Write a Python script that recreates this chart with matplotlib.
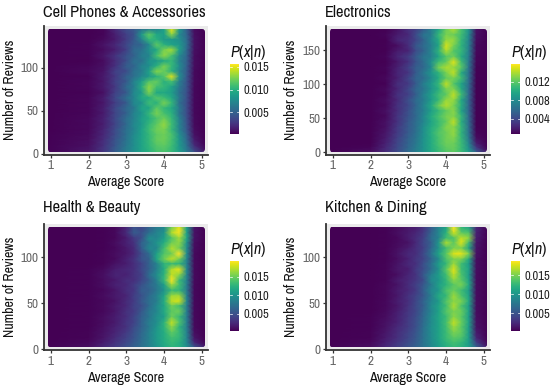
import matplotlib
matplotlib.use("Agg")
import matplotlib.pyplot as plt
import numpy as np
from matplotlib.patches import FancyBboxPatch
from matplotlib import font_manager

names = {f.name for f in font_manager.fontManager.ttflist}
# condensed face when there is one, else plain Liberation a bit smaller
if "Archivo Narrow" in names:
    FONT, SCALE = "Archivo Narrow", 1.0
else:
    FONT, SCALE = "Liberation Sans", 0.82
plt.rcParams["font.family"] = [FONT, "DejaVu Sans"]
plt.rcParams["mathtext.fontset"] = "custom"
plt.rcParams["mathtext.it"] = FONT + ":italic"
plt.rcParams["mathtext.rm"] = FONT

W, H = 553, 389

# Average score positions of the grid columns
scores = [0.92, 2.0, 2.4, 2.7, 3.0, 3.2, 3.4, 3.6, 3.8, 4.0, 4.2, 4.4, 4.6, 4.8, 5.08]

# Number of reviews of the grid rows, top to bottom
n_cell = [145, 139, 133, 127, 121, 114, 108, 102, 96, 90, 84, 78, 71, 65, 59, 53, 47, 41, 34, 28, 22, 16, 9, 2]
n_elec = [181, 173, 165, 157, 149, 141, 133, 125, 117, 109, 101, 93, 85, 77, 69, 61, 53, 45, 37, 29, 21, 13, 7, 1]
n_health = [133, 127, 121, 116, 110, 104, 98, 93, 87, 81, 75, 70, 64, 58, 52, 47, 41, 35, 29, 24, 18, 12, 7, 2]
n_kitchen = [133, 127, 121, 116, 110, 104, 98, 93, 87, 81, 75, 70, 64, 58, 52, 47, 41, 35, 29, 24, 18, 12, 7, 2]

# P(x|n), in units of 1e-4
p_cell = [
    [3, 3, 5, 20, 38, 45, 60, 70, 72, 90, 150, 85, 48, 8, 3],
    [3, 3, 5, 16, 32, 42, 85, 118, 95, 90, 130, 75, 52, 9, 3],
    [3, 3, 7, 14, 30, 45, 70, 105, 100, 85, 85, 80, 56, 10, 3],
    [3, 4, 11, 20, 36, 48, 52, 75, 118, 100, 90, 85, 58, 10, 3],
    [3, 4, 8, 16, 32, 55, 60, 80, 95, 125, 135, 90, 54, 9, 3],
    [3, 4, 12, 26, 42, 50, 68, 72, 110, 130, 110, 75, 52, 8, 3],
    [3, 3, 8, 22, 40, 60, 58, 82, 85, 95, 105, 70, 50, 8, 3],
    [3, 5, 10, 24, 48, 52, 72, 78, 100, 125, 105, 78, 48, 8, 3],
    [3, 6, 11, 32, 38, 60, 66, 90, 128, 120, 100, 70, 46, 7, 3],
    [3, 4, 14, 28, 50, 58, 74, 85, 100, 115, 150, 80, 44, 7, 3],
    [3, 5, 12, 32, 45, 72, 88, 115, 120, 100, 110, 68, 42, 7, 3],
    [3, 5, 14, 28, 55, 68, 98, 130, 110, 105, 92, 65, 42, 6, 3],
    [3, 4, 10, 32, 45, 75, 85, 125, 95, 95, 88, 60, 40, 6, 3],
    [3, 5, 15, 36, 58, 72, 95, 98, 115, 108, 95, 64, 40, 6, 3],
    [3, 5, 13, 30, 46, 75, 80, 108, 100, 125, 105, 58, 38, 6, 3],
    [3, 5, 16, 36, 55, 64, 92, 92, 118, 105, 95, 66, 38, 6, 3],
    [3, 5, 14, 34, 50, 72, 82, 105, 125, 110, 100, 62, 38, 6, 3],
    [3, 6, 17, 36, 58, 70, 88, 98, 112, 122, 105, 70, 40, 7, 3],
    [3, 6, 16, 34, 55, 75, 85, 105, 118, 132, 108, 72, 42, 7, 3],
    [3, 6, 19, 38, 60, 72, 90, 108, 122, 125, 105, 72, 44, 8, 3],
    [4, 7, 20, 38, 60, 76, 90, 105, 118, 122, 112, 80, 50, 10, 3],
    [4, 8, 23, 42, 62, 78, 92, 105, 120, 122, 110, 84, 54, 14, 3],
    [4, 9, 25, 44, 65, 78, 92, 104, 115, 118, 108, 85, 60, 22, 5],
    [4, 12, 28, 48, 68, 80, 92, 100, 110, 112, 105, 88, 66, 40, 12],
]
p_elec = [
    [3, 3, 7, 14, 28, 35, 50, 72, 95, 125, 140, 115, 85, 14, 3],
    [3, 3, 9, 18, 24, 42, 66, 70, 108, 128, 125, 112, 80, 13, 3],
    [3, 3, 6, 22, 28, 38, 55, 78, 100, 135, 135, 108, 76, 12, 3],
    [3, 4, 8, 12, 26, 48, 60, 72, 95, 150, 128, 105, 74, 10, 3],
    [3, 3, 7, 18, 22, 42, 55, 76, 105, 140, 118, 108, 72, 10, 3],
    [3, 4, 9, 22, 34, 50, 66, 72, 96, 118, 125, 100, 70, 9, 3],
    [3, 4, 7, 16, 28, 46, 60, 82, 112, 122, 152, 112, 68, 9, 3],
    [3, 3, 9, 20, 36, 52, 58, 78, 128, 140, 135, 120, 66, 8, 3],
    [3, 4, 8, 22, 30, 50, 68, 86, 105, 128, 145, 100, 64, 8, 3],
    [3, 4, 10, 20, 38, 56, 60, 80, 100, 122, 128, 112, 62, 8, 3],
    [3, 4, 8, 26, 32, 50, 72, 88, 108, 145, 118, 96, 60, 7, 3],
    [3, 4, 11, 22, 40, 58, 66, 85, 102, 128, 130, 100, 58, 7, 3],
    [3, 4, 9, 28, 36, 52, 74, 92, 112, 120, 145, 112, 58, 7, 3],
    [3, 4, 12, 24, 44, 60, 70, 90, 108, 135, 135, 98, 56, 7, 3],
    [3, 4, 10, 28, 40, 56, 76, 98, 125, 142, 128, 102, 56, 7, 3],
    [3, 4, 13, 26, 44, 60, 72, 92, 108, 122, 132, 95, 56, 7, 3],
    [3, 4, 11, 30, 46, 58, 78, 100, 115, 128, 130, 108, 58, 7, 3],
    [3, 4, 14, 28, 48, 62, 76, 96, 110, 122, 145, 102, 60, 7, 3],
    [3, 5, 14, 32, 50, 62, 82, 100, 112, 130, 132, 108, 62, 8, 3],
    [3, 5, 16, 32, 50, 64, 82, 102, 118, 125, 135, 105, 64, 9, 3],
    [3, 6, 18, 36, 54, 66, 84, 100, 115, 126, 130, 108, 68, 12, 3],
    [3, 7, 21, 38, 56, 68, 85, 100, 115, 125, 125, 110, 76, 20, 4],
    [3, 9, 24, 40, 58, 70, 85, 100, 112, 122, 124, 110, 82, 32, 6],
    [4, 12, 26, 42, 60, 72, 85, 98, 110, 118, 122, 110, 90, 50, 16],
]
p_health = [
    [3, 3, 4, 6, 22, 50, 42, 62, 80, 90, 150, 185, 110, 12, 3],
    [3, 3, 4, 7, 26, 58, 50, 70, 88, 100, 170, 190, 110, 12, 3],
    [3, 3, 4, 6, 18, 35, 48, 95, 90, 110, 140, 165, 115, 12, 3],
    [3, 3, 4, 9, 20, 30, 62, 80, 100, 120, 150, 160, 100, 10, 3],
    [3, 3, 4, 7, 16, 26, 58, 92, 90, 135, 170, 150, 95, 9, 3],
    [3, 3, 5, 9, 15, 24, 46, 68, 110, 140, 150, 192, 95, 8, 3],
    [3, 3, 5, 8, 20, 30, 52, 60, 115, 150, 175, 150, 90, 8, 3],
    [3, 3, 5, 12, 18, 28, 40, 62, 85, 125, 130, 125, 85, 8, 3],
    [3, 4, 8, 18, 24, 28, 44, 60, 85, 120, 170, 185, 92, 8, 3],
    [3, 4, 11, 22, 20, 30, 38, 70, 95, 125, 175, 160, 88, 8, 3],
    [3, 4, 9, 16, 28, 28, 42, 58, 85, 130, 190, 130, 85, 8, 3],
    [3, 4, 10, 20, 24, 36, 50, 66, 80, 110, 165, 135, 82, 7, 3],
    [3, 4, 7, 14, 28, 32, 58, 60, 78, 100, 130, 125, 80, 7, 3],
    [3, 4, 9, 16, 22, 38, 50, 68, 85, 115, 165, 165, 85, 7, 3],
    [3, 4, 7, 12, 26, 36, 55, 72, 82, 120, 175, 180, 90, 7, 3],
    [3, 4, 8, 16, 24, 40, 48, 68, 92, 115, 150, 135, 82, 7, 3],
    [3, 4, 7, 14, 30, 36, 55, 78, 90, 118, 145, 150, 84, 7, 3],
    [3, 4, 10, 18, 28, 42, 60, 76, 98, 108, 150, 130, 82, 7, 3],
    [3, 4, 9, 16, 32, 40, 62, 84, 95, 125, 175, 140, 84, 8, 3],
    [3, 4, 11, 20, 30, 46, 62, 80, 102, 125, 160, 125, 82, 8, 3],
    [3, 5, 12, 22, 36, 50, 66, 85, 105, 120, 145, 130, 86, 10, 3],
    [3, 5, 14, 26, 40, 52, 68, 85, 105, 120, 135, 128, 88, 14, 3],
    [3, 7, 18, 30, 44, 56, 70, 85, 104, 118, 130, 122, 90, 24, 5],
    [4, 10, 24, 36, 50, 60, 72, 85, 100, 115, 125, 120, 95, 55, 18],
]
p_kitchen = [
    [3, 3, 4, 8, 14, 18, 30, 55, 85, 110, 187, 125, 110, 22, 4],
    [3, 3, 4, 10, 16, 22, 34, 60, 88, 120, 175, 140, 135, 20, 4],
    [3, 3, 4, 7, 18, 26, 38, 68, 85, 130, 135, 170, 155, 18, 4],
    [3, 3, 4, 8, 12, 24, 42, 58, 100, 165, 140, 178, 130, 15, 3],
    [3, 3, 4, 9, 18, 28, 38, 64, 95, 130, 150, 150, 110, 13, 3],
    [3, 3, 4, 12, 24, 26, 44, 72, 110, 140, 178, 180, 150, 12, 3],
    [3, 3, 4, 10, 20, 32, 40, 62, 90, 135, 150, 150, 115, 10, 3],
    [3, 3, 5, 12, 24, 28, 48, 70, 105, 125, 160, 130, 105, 10, 3],
    [3, 3, 5, 14, 18, 34, 46, 68, 95, 140, 178, 130, 110, 10, 3],
    [3, 3, 5, 10, 22, 30, 54, 82, 105, 130, 170, 135, 105, 9, 3],
    [3, 3, 5, 16, 24, 32, 46, 90, 100, 125, 155, 140, 110, 9, 3],
    [3, 3, 6, 12, 26, 38, 54, 78, 108, 122, 140, 150, 115, 9, 3],
    [3, 3, 6, 16, 24, 34, 58, 88, 100, 135, 145, 130, 105, 9, 3],
    [3, 3, 6, 14, 30, 40, 54, 82, 115, 125, 160, 135, 110, 9, 3],
    [3, 3, 7, 18, 28, 42, 62, 85, 102, 138, 155, 150, 115, 9, 3],
    [3, 3, 7, 14, 30, 44, 58, 90, 110, 130, 165, 135, 105, 9, 3],
    [3, 3, 8, 18, 32, 42, 64, 86, 108, 138, 150, 145, 110, 9, 3],
    [3, 4, 9, 20, 34, 46, 66, 92, 112, 128, 155, 140, 105, 10, 3],
    [3, 4, 11, 20, 36, 48, 68, 90, 110, 132, 170, 145, 110, 11, 3],
    [3, 4, 12, 24, 36, 48, 70, 94, 110, 130, 160, 140, 105, 12, 3],
    [3, 5, 14, 26, 40, 52, 72, 92, 110, 128, 150, 142, 105, 16, 3],
    [3, 5, 16, 28, 42, 54, 72, 92, 110, 128, 140, 135, 105, 22, 3],
    [3, 7, 20, 32, 46, 56, 74, 90, 106, 122, 132, 125, 105, 38, 6],
    [4, 10, 24, 36, 50, 60, 72, 88, 104, 118, 125, 120, 105, 60, 18],
]

titles = ["Cell Phones & Accessories", "Electronics", "Health & Beauty", "Kitchen & Dining"]
n_levels = [n_cell, n_elec, n_health, n_kitchen]
grids = [p_cell, p_elec, p_health, p_kitchen]
yticks = [[0, 50, 100], [0, 50, 100, 150], [0, 50, 100], [0, 50, 100]]
cbar_ticks = [[0.005, 0.010, 0.015], [0.004, 0.008, 0.012],
              [0.005, 0.010, 0.015], [0.005, 0.010, 0.015]]
cbar_labels = [["0.005", "0.010", "0.015"], ["0.004", "0.008", "0.012"],
               ["0.005", "0.010", "0.015"], ["0.005", "0.010", "0.015"]]
cbar_range = [(0.0003, 0.0156), (0.0007, 0.0159), (0.0003, 0.0192), (0.0003, 0.0187)]
xlim = (0.82, 5.16)
ylims = [(-1, 149), (-3, 186), (-1, 136.5), (-1, 136.5)]

# panel boxes in pixels: left, top, right, bottom
boxes = [(44, 26, 208, 154.5), (326, 26, 490, 154.5), (44, 224, 208, 350), (326, 224, 490, 350)]
cbars = [(230, 64, 239, 134), (511, 64, 520, 134), (230, 261, 239, 331), (511, 261, 520, 331)]
title_base = [17, 17, 212, 212]
# right edge of the rotated y label
ylabel_x = [17, 298, 17, 298]


def px_axes(fig, box):
    l, t, r, b = box
    return fig.add_axes([l / W, 1 - b / H, (r - l) / W, (b - t) / H])


fig = plt.figure(figsize=(W / 100, H / 100), dpi=100)

for i in range(4):
    box = boxes[i]
    ax = px_axes(fig, box)
    ax.set_facecolor("#ebebeb")
    ax.set_xlim(xlim)
    ax.set_ylim(ylims[i])

    z = np.array(grids[i]) * 1e-4
    vmin, vmax = cbar_range[i]
    mesh = ax.pcolormesh(scores, n_levels[i], z, shading="gouraud", cmap="viridis",
                         vmin=vmin, vmax=vmax)

    # the heat block has rounded corners
    x0, x1 = scores[0], scores[-1]
    y0, y1 = n_levels[i][-1], n_levels[i][0]
    per_x = (box[2] - box[0]) / (xlim[1] - xlim[0])
    per_y = (box[3] - box[1]) / (ylims[i][1] - ylims[i][0])
    clip = FancyBboxPatch((x0, y0), x1 - x0, y1 - y0, boxstyle="round,pad=0,rounding_size=0.07",
                          mutation_aspect=per_x / per_y, transform=ax.transData,
                          facecolor="none", edgecolor="none")
    ax.add_patch(clip)
    mesh.set_clip_path(clip)

    for s in ["top", "right"]:
        ax.spines[s].set_visible(False)
    for s in ["left", "bottom"]:
        ax.spines[s].set_linewidth(1.3)
        ax.spines[s].set_color("#333333")
    ax.set_xticks([1, 2, 3, 4, 5])
    ax.set_yticks(yticks[i])
    ax.tick_params(length=2.5, width=0.9, color="#333333", labelsize=9.5 * SCALE, labelcolor="#666666", pad=1.5)
    ax.set_xlabel("Average Score", fontsize=10.2 * SCALE, color="#111111", labelpad=3)
    ax.set_ylabel("Number of Reviews", fontsize=10 * SCALE, color="#111111")
    ax.yaxis.set_label_coords((ylabel_x[i] - box[0]) / (box[2] - box[0]), 0.5)
    fig.text((box[0] - 1) / W, 1 - title_base[i] / H, titles[i], fontsize=11.8 * SCALE, color="#111111",
             ha="left", va="baseline", fontweight="medium")

    # colour bar
    cax = px_axes(fig, cbars[i])
    cb = fig.colorbar(mesh, cax=cax)
    cb.outline.set_visible(False)
    cb.set_ticks(cbar_ticks[i])
    cb.set_ticklabels(cbar_labels[i])
    cax.tick_params(length=0, labelsize=9 * SCALE, labelcolor="#222222", pad=3)
    for t in cbar_ticks[i]:
        cax.plot([0, 0.2], [t, t], color="white", lw=0.5, transform=cax.get_yaxis_transform())
        cax.plot([0.8, 1], [t, t], color="white", lw=0.5, transform=cax.get_yaxis_transform())
    fig.text(cbars[i][0] / W, 1 - (cbars[i][1] - 7) / H, r"$P$($x$|$n$)", fontsize=11.5 * SCALE, color="#111111",
             ha="left", va="baseline")

fig.savefig("out.png", dpi=100)
